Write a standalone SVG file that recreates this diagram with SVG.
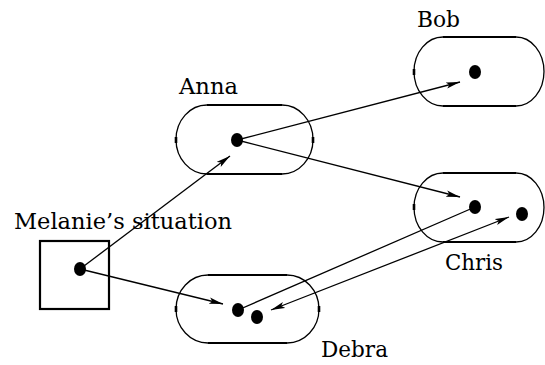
<svg xmlns="http://www.w3.org/2000/svg" width="545" height="365" viewBox="0 0 545 365">
  <style>
    text { font-family: "DejaVu Serif", serif; font-size: 22px; fill: #000; }
    .outline { fill: none; stroke: #000; stroke-width: 1.3; }
    .edge { fill: none; stroke: #000; stroke-width: 2.2; }
    .tick { stroke: #000; stroke-width: 2.6; }
    .dot { fill: #000; }
    .conn { fill: none; stroke: #000; stroke-width: 1.3; }
  </style>
  <defs>
    <marker id="head" viewBox="-14 -4 15 8" refX="0" refY="0" markerWidth="15" markerHeight="8" markerUnits="userSpaceOnUse" orient="auto-start-reverse">
      <path d="M0,0 L-14,-3.2 L-11,0 L-14,3.2 Z" fill="#000"/>
    </marker>
  </defs>

  <rect width="545" height="365" fill="#fff"/>

  <!-- Melanie's situation -->
  <g id="melanie">
    <rect x="40" y="241" width="69" height="68" fill="none" stroke="#000" stroke-width="2.2"/>
    <ellipse class="dot" cx="80" cy="269" rx="6" ry="7"/>
    <text x="14" y="229" textLength="218" lengthAdjust="spacingAndGlyphs">Melanie’s situation</text>
  </g>

  <!-- Anna -->
  <g id="anna">
    <path class="outline" d="M207,105 H282 A31 34.5 0 0 1 282,174 H207 A31 34.5 0 0 1 207,105 Z"/>
    <path class="edge" d="M207,105 H282 M207,174 H282"/>
    <path class="tick" d="M176,137 V143 M313,137 V143"/>
    <ellipse class="dot" cx="237" cy="140" rx="6" ry="7"/>
    <text x="179" y="94" textLength="59" lengthAdjust="spacingAndGlyphs">Anna</text>
  </g>

  <!-- Bob -->
  <g id="bob">
    <path class="outline" d="M443,37 H516 A28 34.5 0 0 1 516,106 H443 A29 34.5 0 0 1 443,37 Z"/>
    <path class="edge" d="M443,37 H516 M443,106 H516"/>
    <path class="tick" d="M414,69 V75"/>
    <ellipse class="dot" cx="475" cy="72" rx="6" ry="7"/>
    <text x="417" y="27" textLength="43" lengthAdjust="spacingAndGlyphs">Bob</text>
  </g>

  <!-- Chris -->
  <g id="chris">
    <path class="outline" d="M443,173 H516 A28 34.5 0 0 1 516,242 H443 A29 34.5 0 0 1 443,173 Z"/>
    <path class="edge" d="M443,173 H516 M443,242 H516"/>
    <path class="tick" d="M414,204 V210"/>
    <ellipse class="dot" cx="475" cy="207" rx="6" ry="7"/>
    <ellipse class="dot" cx="522" cy="214" rx="6" ry="7"/>
    <text x="445" y="270" textLength="58" lengthAdjust="spacingAndGlyphs">Chris</text>
  </g>

  <!-- Debra -->
  <g id="debra">
    <path class="outline" d="M208,275 H287 A32 34 0 0 1 287,343 H208 A32 34 0 0 1 208,275 Z"/>
    <path class="edge" d="M208,275 H287 M208,343 H287"/>
    <path class="tick" d="M176,306 V312 M319,306 V312"/>
    <ellipse class="dot" cx="238" cy="310" rx="6" ry="7"/>
    <ellipse class="dot" cx="257" cy="317" rx="6" ry="7"/>
    <text x="321" y="357" textLength="67" lengthAdjust="spacingAndGlyphs">Debra</text>
  </g>

  <!-- connectors -->
  <g id="connectors">
    <line class="conn" x1="80" y1="269" x2="230" y2="156" marker-end="url(#head)"/>
    <line class="conn" x1="80" y1="269" x2="223" y2="304" marker-end="url(#head)"/>
    <line class="conn" x1="237" y1="140" x2="460" y2="82" marker-end="url(#head)"/>
    <line class="conn" x1="237" y1="140" x2="460" y2="197" marker-end="url(#head)"/>
    <line class="conn" x1="238" y1="310" x2="475" y2="207"/>
    <line class="conn" x1="271" y1="310" x2="509" y2="217" marker-start="url(#head)" marker-end="url(#head)"/>
  </g>
</svg>
